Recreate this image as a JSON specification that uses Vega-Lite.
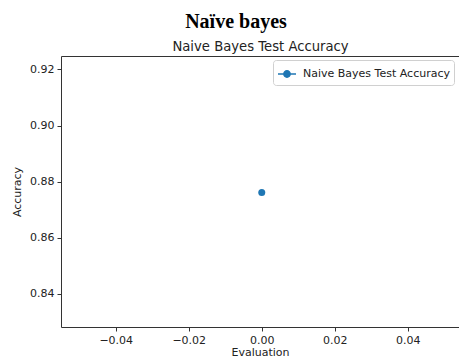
{
  "$schema": "https://vega.github.io/schema/vega-lite/v6.json",
  "width": 398,
  "height": 271,
  "autosize": "none",
  "padding": {"left": 61, "top": 56, "right": 0, "bottom": 33},
  "background": "white",
  "title": {
    "text": "Naïve bayes",
    "font": "Liberation Serif",
    "fontSize": 20,
    "fontWeight": "bold",
    "color": "black",
    "anchor": "middle",
    "frame": "group",
    "dx": -24,
    "baseline": "alphabetic",
    "offset": -9
  },
  "config": {
    "view": {"stroke": null},
    "axis": {
      "labelFont": "DejaVu Sans",
      "titleFont": "DejaVu Sans",
      "labelFontSize": 11,
      "titleFontSize": 11,
      "titleFontWeight": "normal",
      "labelColor": "#222",
      "titleColor": "#222",
      "domainColor": "#333",
      "tickColor": "#333",
      "domainWidth": 1,
      "tickWidth": 1,
      "tickSize": 4,
      "labelPadding": 3,
      "grid": false
    },
    "legend": {
      "labelFont": "DejaVu Sans",
      "labelFontSize": 11,
      "labelColor": "#222"
    }
  },
  "data": {
    "values": [
      {"Evaluation": 0, "Accuracy": 0.8761, "series": "Naive Bayes Test Accuracy"}
    ]
  },
  "resolve": {"axis": {"x": "independent"}},
  "layer": [
    {
      "mark": {"type": "point", "filled": true, "size": 49, "opacity": 1},
      "encoding": {
        "x": {
          "field": "Evaluation",
          "type": "quantitative",
          "scale": {"domain": [-0.055, 0.05404], "nice": false, "zero": false},
          "axis": {
            "orient": "bottom",
            "title": "Evaluation",
            "values": [-0.04, -0.02, 0, 0.02, 0.04],
            "format": ".2f",
            "titlePadding": 1
          }
        },
        "y": {
          "field": "Accuracy",
          "type": "quantitative",
          "scale": {"domain": [0.8281, 0.9248], "nice": false, "zero": false},
          "axis": {
            "title": "Accuracy",
            "values": [0.84, 0.86, 0.88, 0.9, 0.92],
            "format": ".2f",
            "titlePadding": 7
          }
        },
        "color": {
          "field": "series",
          "type": "nominal",
          "scale": {"range": ["#1f77b4"]},
          "legend": {
            "title": null,
            "orient": "none",
            "legendX": 212,
            "legendY": 4,
            "symbolType": "M-1,0H1M-0.35,0A0.35,0.35,0,1,0,0.35,0A0.35,0.35,0,1,0,-0.35,0Z",
            "symbolSize": 324,
            "symbolStrokeWidth": 1.5,
            "symbolFillColor": "#1f77b4",
            "symbolStrokeColor": "#1f77b4",
            "labelOffset": 6,
            "padding": 4,
            "strokeColor": "#d0d0d0",
            "fillColor": "white",
            "cornerRadius": 3
          }
        }
      }
    },
    {
      "mark": {"type": "point", "opacity": 0},
      "encoding": {
        "x": {
          "field": "Evaluation",
          "type": "quantitative",
          "axis": {
            "orient": "top",
            "title": "Naive Bayes Test Accuracy",
            "titleFontSize": 13.2,
            "titleBaseline": "alphabetic",
            "titlePadding": 6,
            "labels": false,
            "ticks": false,
            "domain": true
          }
        }
      }
    }
  ]
}
